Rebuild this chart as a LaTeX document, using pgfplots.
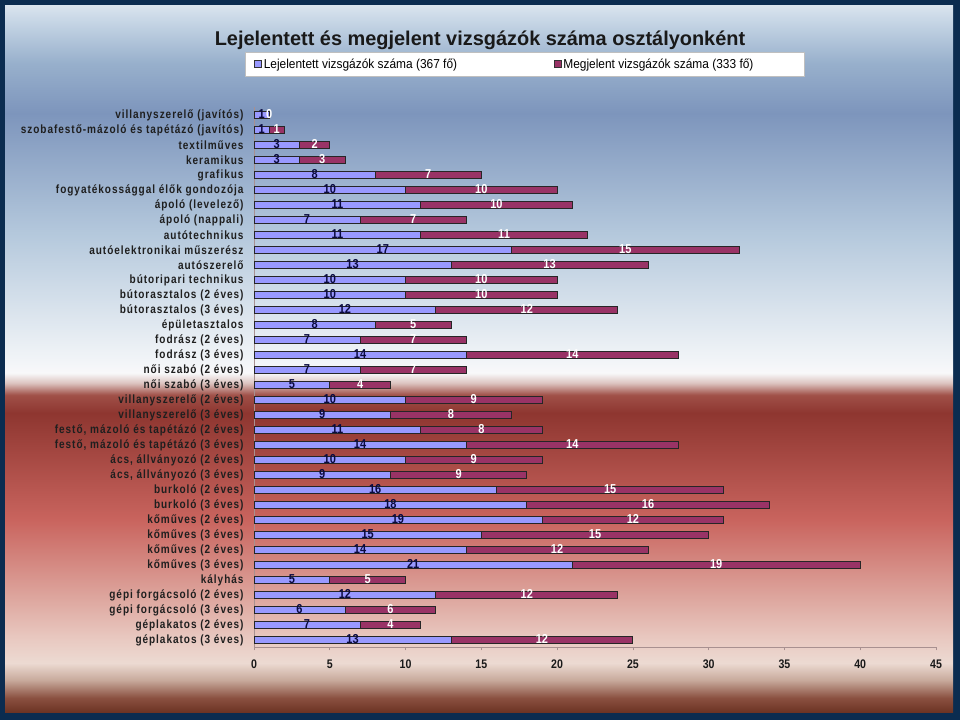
\documentclass[border=0pt]{standalone}
\usepackage{fontspec}
\setmainfont{Liberation Sans}
\newfontfamily\chartfont[FakeStretch=0.84, LetterSpace=8]{Liberation Sans}
\newfontfamily\numfont[FakeStretch=0.85]{Liberation Sans}
\newfontfamily\legfont[FakeStretch=0.92]{Liberation Sans}
\usepackage{pgfplots}
\pgfplotsset{compat=1.18}
\usepackage{pgfplotstable}

\definecolor{navyframe}{HTML}{0B2C50}
\definecolor{barblue}{HTML}{9999FF}
\definecolor{barred}{HTML}{993366}
\definecolor{lblnavy}{HTML}{0A0A40}
\definecolor{axgray}{HTML}{A89090}
% background stops, bottom to top
\definecolor{s00}{HTML}{6B3222}
\definecolor{s01}{HTML}{8A5040}
\definecolor{s02}{HTML}{C8AA9C}
\definecolor{s03}{HTML}{ECDAD2}
\definecolor{s04}{HTML}{E9CAC2}
\definecolor{s05}{HTML}{DEA8A0}
\definecolor{s06}{HTML}{C9645E}
\definecolor{s07}{HTML}{8E3630}
\definecolor{s08}{HTML}{A05048}
\definecolor{s09}{HTML}{DCC4C0}
\definecolor{s10}{HTML}{F8F8FA}
\definecolor{s11}{HTML}{EEF2F6}
\definecolor{s12}{HTML}{B4C8DC}
\definecolor{s13}{HTML}{7D95BC}
\definecolor{s14}{HTML}{98B0CC}
\definecolor{s15}{HTML}{C4D4E4}
\definecolor{s16}{HTML}{DAE4EE}

\pgfdeclareverticalshading{bgshade}{948bp}{%
  color(0bp)=(s00); color(15bp)=(s01); color(33bp)=(s02); color(50bp)=(s03);
  color(73bp)=(s04); color(113bp)=(s05); color(193bp)=(s06); color(300bp)=(s07);
  color(318bp)=(s08); color(330bp)=(s09); color(340bp)=(s10); color(360bp)=(s11);
  color(480bp)=(s12); color(600bp)=(s13); color(650bp)=(s14); color(690bp)=(s15);
  color(708bp)=(s16)}

% idx: 35 = top row, 0 = bottom row
\pgfplotstableread{
idx a b
35 1 0
34 1 1
33 3 2
32 3 3
31 8 7
30 10 10
29 11 10
28 7 7
27 11 11
26 17 15
25 13 13
24 10 10
23 10 10
22 12 12
21 8 5
20 7 7
19 14 14
18 7 7
17 5 4
16 10 9
15 9 8
14 11 8
13 14 14
12 10 9
11 9 9
10 16 15
9 18 16
8 19 12
7 15 15
6 14 12
5 21 19
4 5 5
3 12 12
2 6 6
1 7 4
0 13 12
}\data

\begin{document}
\begin{tikzpicture}
\useasboundingbox (0bp,0bp) rectangle (960bp,720bp);
\fill[navyframe] (0bp,0bp) rectangle (960bp,720bp);
\node[inner sep=0pt, outer sep=0pt, anchor=south west] at (5bp,7bp) {\pgfuseshading{bgshade}};

\node[font=\bfseries\fontsize{20}{22}\selectfont, text=black!90] at (480bp,680bp)
  {Lejelentett és megjelent vizsgázók száma osztályonként};

\pgfplotsset{chartaxis/.style={
  at={(254bp,72.5bp)}, anchor=south west,
  width=682bp, height=540bp, scale only axis,
  xmin=0, xmax=45, ymin=-0.5, ymax=35.5,
}}

\begin{axis}[
  chartaxis,
  xbar stacked, bar width=7bp,
  axis x line*=bottom, axis y line*=left,
  axis line style={axgray, line width=0.7bp},
  xtick={0,5,...,45},
  xtick style={axgray, line width=0.7bp},
  major tick length=3bp,
  tick align=outside,
  xticklabel style={font=\numfont\bfseries\fontsize{12.5}{12.5}\selectfont, text=black!90, yshift=-6bp},
  /pgf/number format/assume math mode=true,
  ytick={0,...,35},
  ytick style={draw=none},
  yticklabel style={font=\chartfont\bfseries\fontsize{12}{12}\selectfont, text=black!88, xshift=-4bp},
  yticklabels={
    géplakatos (3 éves),
    géplakatos (2 éves),
    gépi forgácsoló (3 éves),
    gépi forgácsoló (2 éves),
    kályhás,
    kőműves (3 éves),
    kőműves (2 éves),
    kőműves (3 éves),
    kőműves (2 éves),
    burkoló (3 éves),
    burkoló (2 éves),
    {ács, állványozó (3 éves)},
    {ács, állványozó (2 éves)},
    {festő, mázoló és tapétázó  (3 éves)},
    {festő, mázoló és tapétázó (2 éves)},
    villanyszerelő (3 éves),
    villanyszerelő (2 éves),
    női szabó (3 éves),
    női szabó (2 éves),
    fodrász (3 éves),
    fodrász (2 éves),
    épületasztalos,
    bútorasztalos (3 éves),
    bútorasztalos (2 éves),
    bútoripari technikus,
    autószerelő,
    autóelektronikai műszerész,
    autótechnikus,
    ápoló (nappali),
    ápoló (levelező),
    fogyatékossággal élők gondozója,
    grafikus,
    keramikus,
    textilműves,
    szobafestő-mázoló és tapétázó (javítós),
    villanyszerelő (javítós)},
  legend style={at={(-0.0132,1.1028)}, anchor=north west,
    draw=gray!50, fill=white, legend columns=2,
    font=\legfont\fontsize{13}{15}\selectfont,
    inner xsep=9bp, inner ysep=4.5bp,
    /tikz/every even column/.append style={column sep=8bp}},
  legend image code/.code={\draw[#1, draw=black!80, line width=0.6bp] (0bp,-3.5bp) rectangle (7bp,3.5bp);},
]
\addplot[fill=barblue, draw=black!85, line width=0.8bp] table[x=a, y=idx] {\data};
\addlegendentry{\makebox[280bp][l]{Lejelentett vizsgázók száma (367 fő)}}
\addplot[fill=barred, draw=black!85, line width=0.8bp] table[x=b, y=idx] {\data};
\addlegendentry{\makebox[230bp][l]{Megjelent vizsgázók száma (333 fő)}}
\end{axis}

\begin{axis}[chartaxis, hide axis]
\addplot[draw=none, mark=none, nodes near coords, point meta=explicit symbolic,
  nodes near coords style={anchor=center, yshift=1bp, text=lblnavy,
    font=\numfont\bfseries\fontsize{13}{13}\selectfont}]
  table[x expr=\thisrow{a}/2, y=idx, meta=a] {\data};
\addplot[draw=none, mark=none, nodes near coords, point meta=explicit symbolic,
  nodes near coords style={anchor=center, yshift=1bp, text=white,
    font=\numfont\bfseries\fontsize{13}{13}\selectfont}]
  table[x expr=\thisrow{a}+\thisrow{b}/2, y=idx, meta=b] {\data};
\end{axis}
\end{tikzpicture}
\end{document}
